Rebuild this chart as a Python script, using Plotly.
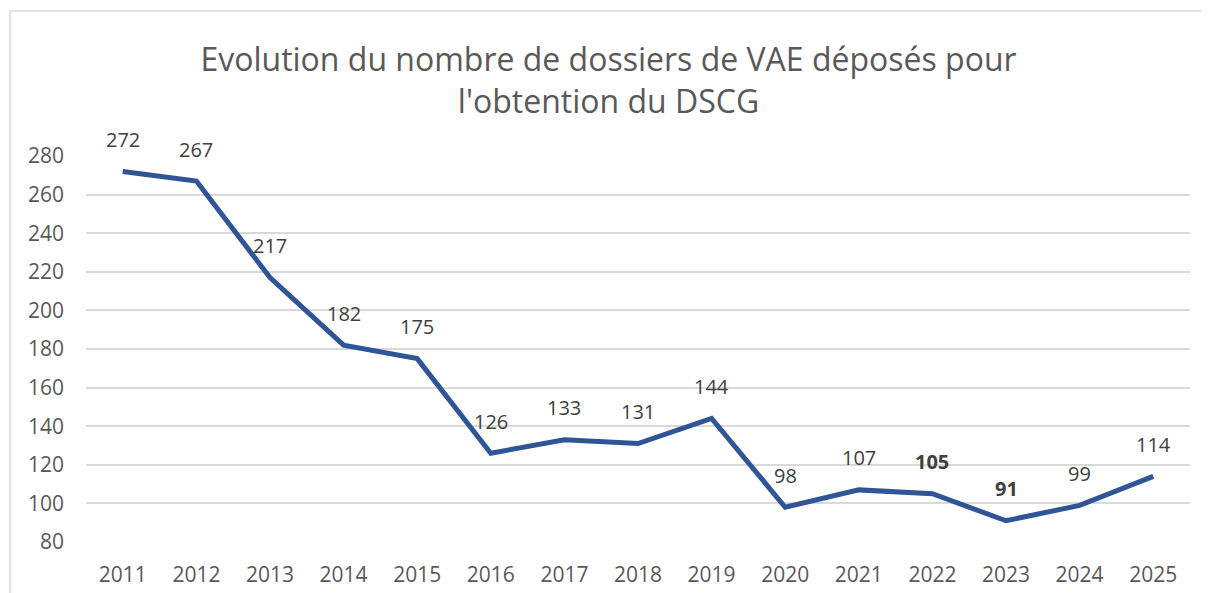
import plotly.graph_objects as go

years = ["2011", "2012", "2013", "2014", "2015", "2016", "2017", "2018",
         "2019", "2020", "2021", "2022", "2023", "2024", "2025"]
dossiers = [272, 267, 217, 182, 175, 126, 133, 131, 144, 98, 107, 105, 91, 99, 114]
bold_years = ["2022", "2023"]

title_text = "Evolution du nombre de dossiers de VAE déposés pour<br>l'obtention du DSCG"

FONT = "Open Sans"
fig = go.Figure()
fig.add_trace(go.Scatter(
    x=years, y=dossiers, mode="lines",
    line=dict(color="#2F5597", width=5),
    hoverinfo="skip", showlegend=False,
))

for i, (yr, v) in enumerate(zip(years, dossiers)):
    txt = f"<b>{v}</b>" if yr in bold_years else str(v)
    fig.add_annotation(x=i, y=v, xref="x", yref="y", text=txt, showarrow=False,
                       yshift=32, font=dict(family=FONT, size=20, color="#404040"))

fig.add_shape(type="rect", xref="paper", yref="paper",
              x0=-0.0688, x1=1.3, y0=-0.4, y1=1.3756,
              line=dict(color="#D9D9D9", width=1.5), fillcolor="rgba(0,0,0,0)", layer="below")

fig.update_layout(
    width=1201, height=585,
    margin=dict(l=78, r=19, t=148, b=51, autoexpand=False),
    paper_bgcolor="white", plot_bgcolor="white",
    title=dict(text=title_text, x=0.5, xanchor="center", y=0.892, yanchor="middle",
               font=dict(family=FONT, size=32, color="#595959")),
    xaxis=dict(type="category", range=[-0.5, 14.5], showgrid=False, showline=False,
               zeroline=False, tickfont=dict(family=FONT, size=21, color="#595959"),
               ticklabelstandoff=18, automargin=False, fixedrange=True),
    yaxis=dict(range=[80, 280], dtick=20, tick0=80, showgrid=True, gridcolor="#D9D9D9",
               gridwidth=1.5, zeroline=False, showline=False,
               tickfont=dict(family=FONT, size=21, color="#595959"),
               ticklabelstandoff=21, automargin=False, fixedrange=True),
)

fig.write_html("out.html")
